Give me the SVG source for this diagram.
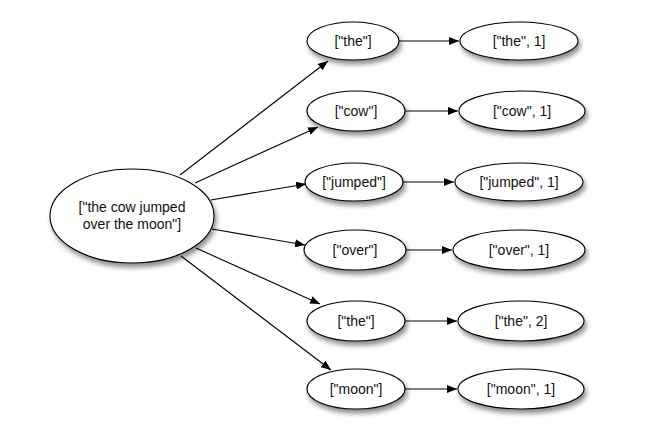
<svg xmlns="http://www.w3.org/2000/svg" width="667" height="432" viewBox="0 0 667 432">
<defs>
<filter id="sh" x="-20%" y="-30%" width="150%" height="180%">
<feDropShadow dx="2" dy="4" stdDeviation="2.5" flood-color="#000" flood-opacity="0.45"/>
</filter>
<marker id="ah" markerUnits="userSpaceOnUse" markerWidth="11" markerHeight="8" refX="10" refY="4" orient="auto">
<path d="M0,0 L10,4 L0,8 z" fill="#000"/>
</marker>
<style>
.n ellipse{fill:#fff;stroke:#000;stroke-width:1.1;filter:url(#sh)}
.n text{font-family:"Liberation Sans",Arial,sans-serif;font-size:14px;fill:#111;text-anchor:middle}
.c line{stroke:#000;stroke-width:1.1;marker-end:url(#ah)}
</style>
</defs>
<rect width="667" height="432" fill="#fff"/>
<g class="c" id="connectors">
<line x1="180" y1="175" x2="328" y2="61"/>
<line x1="195" y1="183" x2="318" y2="127"/>
<line x1="211" y1="200" x2="306" y2="184"/>
<line x1="212" y1="229" x2="305" y2="245"/>
<line x1="196" y1="248" x2="320" y2="304"/>
<line x1="181" y1="256" x2="331" y2="370"/>
<line x1="399" y1="41" x2="459" y2="41"/>
<line x1="405" y1="111" x2="458" y2="111"/>
<line x1="403" y1="182" x2="454" y2="182"/>
<line x1="406" y1="250" x2="452" y2="250"/>
<line x1="405" y1="321" x2="457" y2="321"/>
<line x1="405" y1="389" x2="457" y2="389"/>
</g>
<g class="n" id="src"><ellipse cx="132" cy="216" rx="82" ry="47"/><text x="132" y="212">["the cow jumped</text><text x="132" y="229">over the moon"]</text></g>
<g class="n" id="m1"><ellipse cx="353" cy="41" rx="46" ry="19"/><text x="353" y="46">["the"]</text></g>
<g class="n" id="m2"><ellipse cx="356" cy="111" rx="49" ry="20"/><text x="356" y="116">["cow"]</text></g>
<g class="n" id="m3"><ellipse cx="354" cy="182" rx="49" ry="19"/><text x="354" y="187">["jumped"]</text></g>
<g class="n" id="m4"><ellipse cx="355" cy="250" rx="51" ry="20"/><text x="355" y="255">["over"]</text></g>
<g class="n" id="m5"><ellipse cx="356" cy="321" rx="49" ry="20"/><text x="356" y="326">["the"]</text></g>
<g class="n" id="m6"><ellipse cx="356" cy="389" rx="49" ry="20"/><text x="356" y="394">["moon"]</text></g>
<g class="n" id="r1"><ellipse cx="519" cy="41" rx="59" ry="19"/><text x="519" y="46">["the", 1]</text></g>
<g class="n" id="r2"><ellipse cx="522" cy="111" rx="63" ry="20"/><text x="522" y="116">["cow", 1]</text></g>
<g class="n" id="r3"><ellipse cx="519" cy="182" rx="64" ry="19"/><text x="519" y="187">["jumped", 1]</text></g>
<g class="n" id="r4"><ellipse cx="519" cy="250" rx="66" ry="20"/><text x="519" y="255">["over", 1]</text></g>
<g class="n" id="r5"><ellipse cx="521" cy="321" rx="63" ry="20"/><text x="521" y="326">["the", 2]</text></g>
<g class="n" id="r6"><ellipse cx="521" cy="389" rx="63" ry="20"/><text x="521" y="394">["moon", 1]</text></g>
</svg>
